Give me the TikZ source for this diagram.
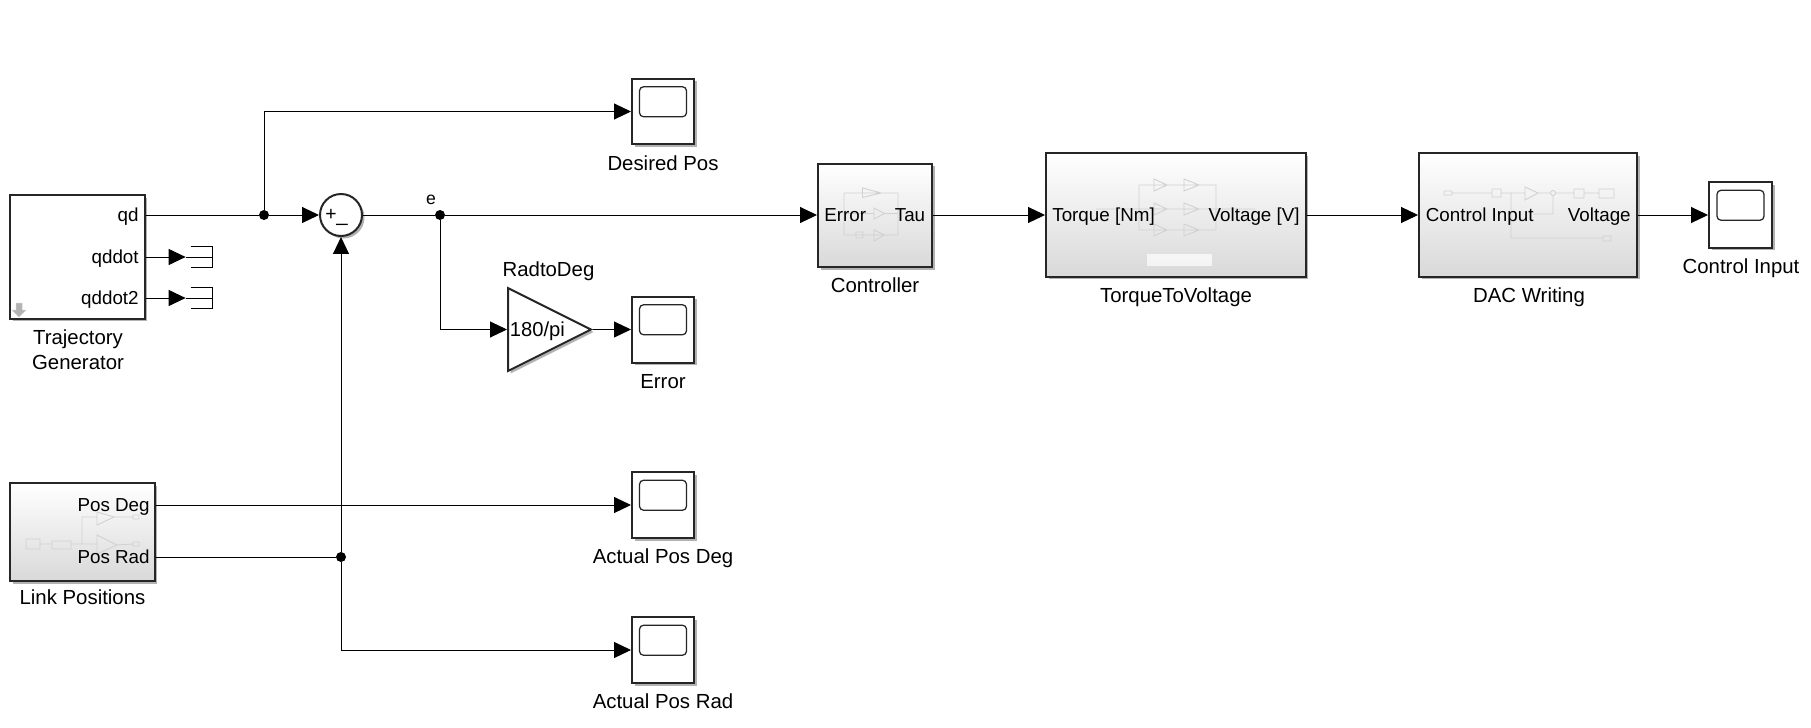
\documentclass[tikz,border=0pt]{standalone}
\usepackage{fontspec}
\setmainfont{Liberation Sans}
\usetikzlibrary{arrows.meta,shapes.geometric,shadows}
\tikzset{
  shad/.style={drop shadow={shadow xshift=0.05cm,shadow yshift=-0.05cm,opacity=0.3,fill=black}},
  plainbox/.style={draw=black!85,line width=0.04cm,fill=white,inner sep=0pt,shad},
  subsys/.style={plainbox,top color=white,middle color=white,bottom color=black!15},
  scopebox/.style={plainbox,minimum width=1.24cm,minimum height=1.32cm},
  screen/.style={draw=black!85,line width=0.025cm,rounded corners=0.08cm,inner sep=0pt,minimum width=0.94cm,minimum height=0.6cm},
  dot/.style={circle,fill=black,inner sep=0pt,minimum size=0.2cm},
  lbl/.style={inner sep=0pt,font=\fontsize{11.6}{14.2}\selectfont,align=center},
  port/.style={inner sep=0pt,font=\fontsize{10.7}{12}\selectfont,text height=7.7pt,text depth=0pt},
  sketch/.style={draw=black!18,line width=0.018cm},
  wire/.style={line width=0.02cm,draw=black},
  term/.style={inner sep=0pt,minimum width=0.52cm,minimum height=0.42cm},
}
\begin{document}
\begin{tikzpicture}[x=0.02cm,y=-0.02cm,>={Triangle[length=0.34cm,width=0.32cm]}]
\useasboundingbox (0,0) rectangle (1811,727);
% blocks
\node[plainbox,minimum width=2.7cm,minimum height=2.48cm] (traj) at (77.5,257) {};
\node[subsys,minimum width=2.9cm,minimum height=1.96cm] (link) at (82.5,532) {};
\node[subsys,minimum width=2.28cm,minimum height=2.08cm] (ctrl) at (875,215.5) {};
\node[subsys,minimum width=5.2cm,minimum height=2.48cm] (ttv) at (1176,215) {};
\node[subsys,minimum width=4.36cm,minimum height=2.48cm] (dac) at (1528,215) {};
\node[circle,plainbox,minimum size=0.84cm] (sum) at (341,215) {};
\node[isosceles triangle,isosceles triangle apex angle=53.13,isosceles triangle stretches,
  plainbox,minimum width=1.66cm,minimum height=1.66cm,anchor=lower side] (gain) at (507,329.5) {};
% scopes
\node[scopebox] (sDes) at (663,111.5) {};
\node[scopebox] (sErr) at (663,329.5) {};
\node[scopebox] (sDeg) at (663,505) {};
\node[scopebox] (sRad) at (663,650) {};
\node[scopebox,minimum width=1.26cm] (sOut) at (1740.5,215) {};
\foreach \s in {sDes,sErr,sDeg,sRad,sOut}
  \node[screen] (\s-scr) at ([yshift=0.195cm]\s) {};
% faded contents of the subsystems
\draw[fill=black!30,draw=black!20,line width=0.01cm] (16,303) -- (22,303) -- (22,310) -- (26,310) -- (19,317) -- (12,310) -- (16,310) -- cycle;
\draw[sketch] (26,539) rectangle (40,549) (52,541) rectangle (71,549) (40,544) -- (52,544) (71,544) -- (97,544)
  (82,544) -- (82,517) -- (97,517) (97,535) -- (117,545) -- (97,554) -- cycle (97,512) -- (114,517) -- (97,525) -- cycle
  (114,517) -- (133,517) (117,545) -- (133,544) (133,515) rectangle (139,519) (133,542) rectangle (139,546);
\draw[sketch] (844,193) rectangle (898,235) (862.5,188) -- (881,193) -- (862.5,197.5) -- cycle
  (874,208) -- (884.5,213.5) -- (874,219) -- cycle (874,230) -- (884.5,235) -- (874,241) -- cycle
  (856,232) rectangle (863,238) (844,213.5) -- (874,213.5) (884.5,213.5) -- (898,213.5);
\draw[sketch] (1139,185) rectangle (1216,230) (1096,209) -- (1255,209)
  (1154,179) -- (1167,185) -- (1154,191) -- cycle (1184,179) -- (1199,185) -- (1184,191) -- cycle
  (1154,203) -- (1167,209) -- (1154,215) -- cycle (1184,203) -- (1199,209) -- (1184,215) -- cycle
  (1154,224) -- (1167,230) -- (1154,236) -- cycle (1184,224) -- (1199,230) -- (1184,236) -- cycle;
\fill[white,opacity=0.7] (1147,254) rectangle (1212,266);
\draw[sketch] (1444,191) rectangle (1452,195) (1452,193) -- (1492,193) (1492,189) rectangle (1501,197) (1501,193) -- (1525,193)
  (1525,187) -- (1538,193) -- (1525,200) -- cycle (1538,193) -- (1550,193) (1553,193) circle (2.5) (1556,193) -- (1574,193)
  (1574,189) rectangle (1584,198) (1584,193) -- (1599,193) (1599,189) rectangle (1614,198)
  (1511,193) -- (1511,238) -- (1603,238) (1603,236) rectangle (1611,241) (1553,196) -- (1553,214) -- (1533,214);
% port labels
\node[port,anchor=east] (qd) at (139,215) {qd};
\node[port,anchor=east] (qddot) at (139,257) {qddot};
\node[port,anchor=east] (qddot2) at (139,298) {qddot2};
\node[port,anchor=east] (posdeg) at (150,505) {Pos Deg};
\node[port,anchor=east] (posrad) at (150,557) {Pos Rad};
\node[port,anchor=west] (errin) at (824,215) {Error};
\node[port,anchor=east] (tauout) at (925.5,215) {Tau};
\node[port,anchor=west] (tqin) at (1052,215) {Torque [Nm]};
\node[port,anchor=east] (vout) at (1300,215) {Voltage [V]};
\node[port,anchor=west] (ciin) at (1425.5,215) {Control Input};
\node[port,anchor=east] (vdac) at (1631,215) {Voltage};
\node[port,anchor=west,font=\fontsize{11.5}{14}\selectfont] (gaintxt) at (509.5,329.5) {180/pi};
\node[lbl,font=\fontsize{11}{12}\selectfont] (plus) at (331,215) {+};
\node[lbl,font=\fontsize{11.6}{12}\selectfont] (minus) at (342,224) {\_};
% block names
\node[lbl] (ltraj) at (78,349.5) {Trajectory\\Generator};
\node[lbl] (llink) at (82.5,597.5) {Link Positions};
\node[lbl] (lgain) at (548.5,271) {RadtoDeg};
\node[lbl] (lctrl) at (875,285) {Controller};
\node[lbl] (lttv) at (1176,297.5) {TorqueToVoltage};
\node[lbl] (ldac) at (1529,297.5) {DAC Writing};
\node[lbl] (lDes) at (663,163) {Desired Pos};
\node[lbl] (lErr) at (663,382) {Error};
\node[lbl] (lDeg) at (663,558.5) {Actual Pos Deg};
\node[lbl] (lRad) at (663,701) {Actual Pos Rad};
\node[lbl] (lOut) at (1741,268.5) {Control Input};
\node[lbl,font=\fontsize{10}{12}\selectfont] (le) at (431,200) {e};
% junctions and terminators
\node[dot] (jd) at (264,215) {};
\node[dot] (je) at (440,215) {};
\node[dot] (jr) at (341,557) {};
\node[term] (t1) at (199,257) {};
\node[term] (t2) at (199,298) {};
\foreach \t in {t1,t2}
  \draw[wire] ([xshift=0.1cm]\t.north west) -- (\t.north east) -- (\t.south east) -- ([xshift=0.1cm]\t.south west)
    (\t.west) -- (\t.east);
% signals
\begin{scope}[wire]
\draw (traj.east |- qd) -- (jd);
\draw[->] (jd) -- (sum.west);
\draw[->] (jd) |- (sDes.west);
\draw (sum.east) -- (je);
\draw[->] (je) -- (ctrl.west |- je);
\draw[->] (je) |- (gain.lower side);
\draw[->] (gain.apex) -- (sErr.west);
\draw[->] (ctrl.east |- tauout) -- (ttv.west);
\draw[->] (ttv.east) -- (dac.west);
\draw[->] (dac.east) -- (sOut.west);
\draw[->] (traj.east |- qddot) -- (t1.west);
\draw[->] (traj.east |- qddot2) -- (t2.west);
\draw[->] (link.east |- posdeg) -- (sDeg.west);
\draw (link.east |- posrad) -- (jr);
\draw[->] (jr) -- (sum.south);
\draw[->] (jr) |- (sRad.west);
\end{scope}
\end{tikzpicture}
\end{document}
